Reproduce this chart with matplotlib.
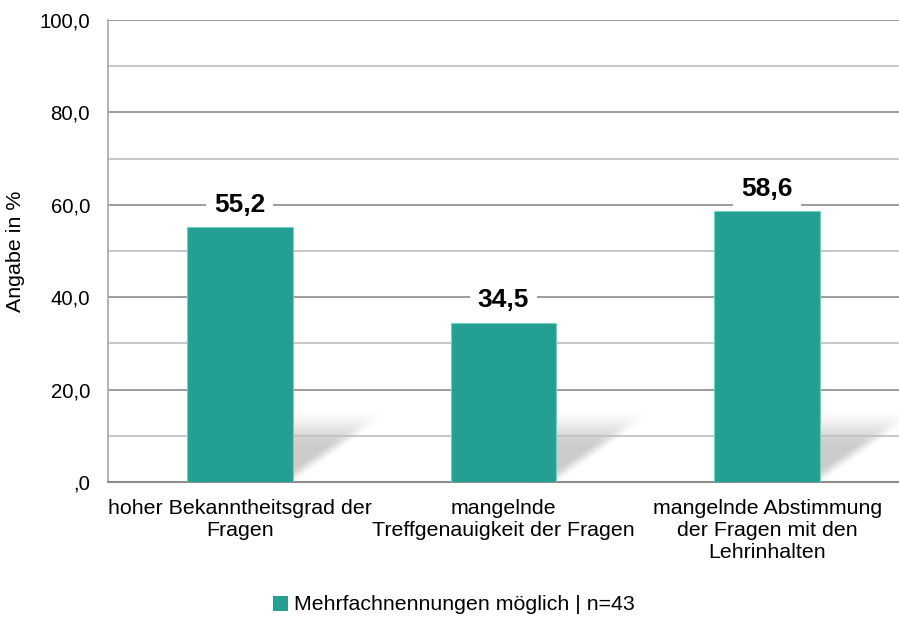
import numpy as np
import matplotlib
matplotlib.use("Agg")
import matplotlib.pyplot as plt
from matplotlib.patches import Patch

plt.rcParams['font.family'] = ['Liberation Sans', 'DejaVu Sans']

# Categories and values (percent of answers)
categories = [
    'hoher Bekanntheitsgrad der\nFragen',
    'mangelnde\nTreffgenauigkeit der Fragen',
    'mangelnde Abstimmung\nder Fragen mit den\nLehrinhalten',
]
values = [55.2, 34.5, 58.6]
series_name = 'Mehrfachnennungen möglich | n=43'
y_ticks = [0, 20, 40, 60, 80, 100]

BAR_COLOR = '#24A092'
BAR_EDGE = '#72D1C5'
BAR_WIDTH = 0.4
TEXT_SIZE = 15.4


def fmt_tick(v):
    s = f'{v:.1f}'.replace('.', ',')
    return s[1:] if s.startswith('0') else s


def smoothstep(a, b, x):
    t = np.clip((x - a) / (b - a), 0, 1)
    return t * t * (3 - 2 * t)


def draw_shadow(ax, xc, w, dx=0.36, dy=14.5):
    """Soft slanted floor shadow cast to the right of a bar."""
    left, right = xc - w / 2, xc + w / 2
    x0, x1 = right - 0.02, right + dx + 0.08
    y0, y1 = 0, dy * 1.15
    nx, ny = 300, 200
    xs = np.linspace(x0, x1, nx)
    ys = np.linspace(y0, y1, ny)
    X, Y = np.meshgrid(xs, ys)
    t = Y / dy
    s = (X - left - t * dx) / w
    alpha = 0.29 * (1 - smoothstep(0.5, 1.08, t)) * (1 - smoothstep(0.82, 1.04, s))
    alpha *= (s > -0.5)
    img = np.zeros((ny, nx, 4))
    img[..., :3] = 0.3
    img[..., 3] = alpha
    ax.imshow(img, extent=(x0, x1, y0, y1), origin='lower', aspect='auto',
              zorder=0.5, interpolation='bilinear')


fig = plt.figure(figsize=(8.99, 6.17), dpi=100)
ax = fig.add_axes([0.1201, 0.2188, 0.8799, 0.7488])

x = np.arange(len(categories))
for xi in x:
    draw_shadow(ax, xi, BAR_WIDTH)

ax.bar(x, values, width=BAR_WIDTH, color=BAR_COLOR, edgecolor=BAR_EDGE,
       linewidth=0.8, zorder=3)

for xi, v in zip(x, values):
    ax.annotate(fmt_tick(v), xy=(xi, v), xytext=(0, 16), textcoords='offset points',
                ha='center', va='center', fontsize=19, fontweight='bold',
                color='black', zorder=5,
                bbox=dict(boxstyle='square,pad=0.3', facecolor='white', edgecolor='none'))

ax.set_xlim(-0.5, len(categories) - 0.5)
ax.set_ylim(0, 100)

# Gridlines: major every 20, minor every 10
for v in range(10, 101, 10):
    major = v % 20 == 0
    ax.axhline(v, color='#8C8C8C' if major else '#BEBEBE', linewidth=1.2, zorder=1)

ax.set_yticks(y_ticks)
ax.set_yticklabels([fmt_tick(v) for v in y_ticks])
ax.set_xticks(x)
ax.set_xticklabels(categories)
ax.tick_params(axis='y', length=0, pad=13, labelsize=14.7)
ax.tick_params(axis='x', length=0, pad=12, labelsize=TEXT_SIZE)
for lbl in ax.get_xticklabels():
    lbl.set_linespacing(1.22)

for side in ['top', 'right']:
    ax.spines[side].set_visible(False)
ax.spines['left'].set_color('#A6A6A6')
ax.spines['left'].set_linewidth(1.2)
ax.spines['bottom'].set_color('#8C8C8C')
ax.spines['bottom'].set_linewidth(1.5)

fig.text(16 / 899, 1 - 251 / 617, 'Angabe in %', rotation=90, ha='center', va='center',
         fontsize=TEXT_SIZE)

fig.legend(handles=[Patch(facecolor=BAR_COLOR, edgecolor='none')], labels=[series_name],
           loc='center', bbox_to_anchor=(0.505, 1 - 605 / 617), frameon=False,
           fontsize=TEXT_SIZE, handlelength=0.7, handleheight=0.7, handletextpad=0.25)

fig.savefig('out.png', dpi=100, facecolor='white')
